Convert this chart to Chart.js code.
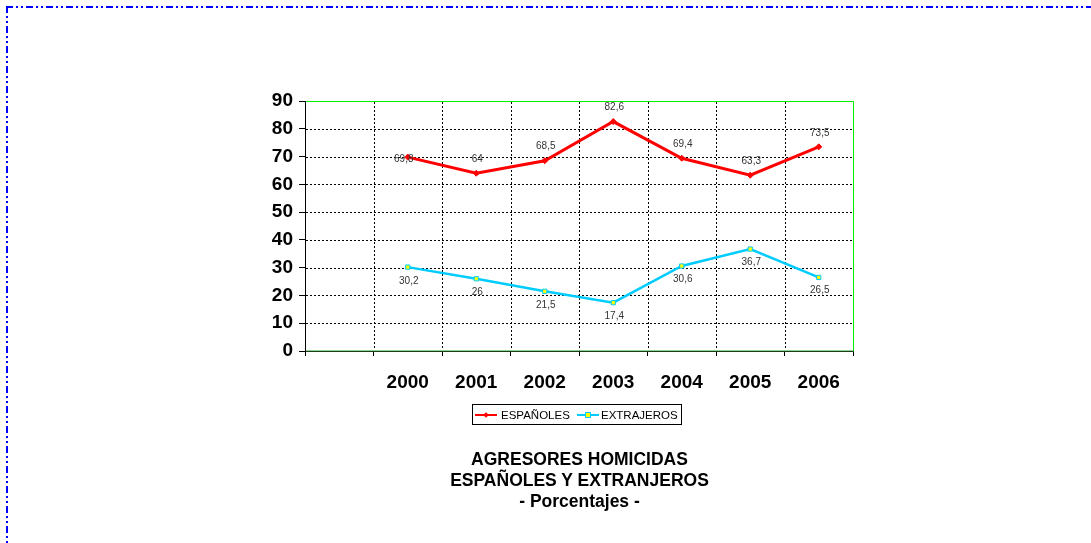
<!DOCTYPE html>
<html><head><meta charset="utf-8">
<script src="https://cdn.jsdelivr.net/npm/chart.js@4.4.0/dist/chart.umd.min.js"></script>
<style>
html,body{margin:0;padding:0;background:#fff;width:1091px;height:543px;overflow:hidden;font-family:Arial,"Liberation Sans",sans-serif;}
#c{position:absolute;left:0;top:0;}
#frame{position:absolute;left:0;top:0;}
.t{position:absolute;left:380px;width:399px;text-align:center;font-weight:bold;font-size:17.5px;line-height:20px;color:#000;white-space:nowrap;}
#legbox{position:absolute;left:472px;top:404px;width:210px;height:21px;border:1px solid #000;box-sizing:border-box;}
.lt{position:absolute;top:405px;height:20px;line-height:20px;font-size:11.5px;color:#000;white-space:nowrap;}
.ls{position:absolute;top:409px;}
</style>
</head><body>
<svg id="frame" width="1091" height="543">
  <line x1="6" y1="7" x2="1091" y2="7" stroke="#0000ff" stroke-width="2" stroke-dasharray="7 3 2 3 2 3"/>
  <line x1="7" y1="6" x2="7" y2="543" stroke="#0000ff" stroke-width="2" stroke-dasharray="7 3 2 3 2 3"/>
</svg>
<canvas id="c" width="1091" height="543"></canvas>
<div id="legbox"></div>
<svg class="ls" style="left:475px" width="23" height="12">
  <line x1="0" y1="6" x2="22" y2="6" stroke="#ff0000" stroke-width="2"/>
  <rect x="9" y="4" width="4" height="4" fill="#ff0000" transform="rotate(45 11 6)"/>
</svg>
<span class="lt" style="left:501px">ESPAÑOLES</span>
<svg class="ls" style="left:577px" width="23" height="12">
  <line x1="0" y1="6" x2="22" y2="6" stroke="#00ccff" stroke-width="2"/>
  <rect x="8.5" y="3.5" width="5" height="5" fill="#ffff00" stroke="#00ccff" stroke-width="1"/>
</svg>
<span class="lt" style="left:601px">EXTRAJEROS</span>
<div class="t" style="top:449px">AGRESORES HOMICIDAS</div>
<div class="t" style="top:470px">ESPAÑOLES Y EXTRANJEROS</div>
<div class="t" style="top:491px">- Porcentajes -</div>
<script>
const categories = ['', '2000', '2001', '2002', '2003', '2004', '2005', '2006'];
const espanoles = [null, 69.8, 64, 68.5, 82.6, 69.4, 63.3, 73.5];
const extranjeros = [null, 30.2, 26, 21.5, 17.4, 30.6, 36.7, 26.5];
const yMin = 0, yMax = 90, yStep = 10;

// label placement relative to each point (style only)
const labelShift = [
  [[0,0],[-5,2],[0,-14],[0,-14],[0,-14],[0,-14],[0,-14],[0,-14]],
  [[0,0],[0,14],[0,13],[0,13.5],[0,13.5],[0,13],[0,13],[0,13]]
];

// dotted gridlines + axes, positioned by the chart's own scales
const plotFrame = {
  id: 'plotFrame',
  beforeDatasetsDraw(chart) {
    const a = chart.chartArea, ctx = chart.ctx;
    const xs = chart.scales.x, ys = chart.scales.y;
    const L = Math.round(a.left), R = Math.round(a.right), T = Math.round(a.top), B = Math.round(a.bottom);
    ctx.save();
    ctx.lineWidth = 1;
    ctx.strokeStyle = '#000000';
    ctx.setLineDash([2, 2]);
    ys.ticks.forEach(t => {
      if (t.value <= yMin || t.value >= yMax) return;
      const y = Math.round(ys.getPixelForValue(t.value)) + 0.5;
      ctx.beginPath(); ctx.moveTo(L + 1, y); ctx.lineTo(R, y); ctx.stroke();
    });
    for (let i = 1; i < categories.length; i++) {
      const x = Math.round((xs.getPixelForValue(i - 1) + xs.getPixelForValue(i)) / 2) + 0.5;
      ctx.beginPath(); ctx.moveTo(x, T + 1); ctx.lineTo(x, B); ctx.stroke();
    }
    ctx.setLineDash([]);
    ctx.strokeStyle = '#1a3f1a';
    ctx.beginPath(); ctx.moveTo(L, B + 0.5); ctx.lineTo(R + 1, B + 0.5); ctx.stroke();
    ctx.strokeStyle = '#8fcf8f';
    ctx.beginPath(); ctx.moveTo(L + 1, B - 0.5); ctx.lineTo(R, B - 0.5); ctx.stroke();
    ctx.strokeStyle = '#000000';
    ctx.beginPath(); ctx.moveTo(L + 0.5, T); ctx.lineTo(L + 0.5, B + 1); ctx.stroke();
    ctx.restore();
  },
  afterDraw(chart) {
    const a = chart.chartArea, ctx = chart.ctx;
    const L = Math.round(a.left), R = Math.round(a.right), T = Math.round(a.top), B = Math.round(a.bottom);
    ctx.save();
    ctx.setLineDash([]);
    ctx.lineWidth = 1;
    ctx.strokeStyle = '#00ee00';
    ctx.beginPath();
    ctx.moveTo(L + 1, T + 0.5);
    ctx.lineTo(R + 0.5, T + 0.5);
    ctx.lineTo(R + 0.5, B);
    ctx.stroke();
    ctx.restore();
  }
};

const valueLabels = {
  id: 'valueLabels',
  afterDatasetsDraw(chart) {
    const ctx = chart.ctx;
    ctx.save();
    ctx.font = '10px Arial, "Liberation Sans", sans-serif';
    ctx.fillStyle = '#333333';
    ctx.textAlign = 'center';
    ctx.textBaseline = 'middle';
    chart.data.datasets.forEach((ds, di) => {
      const meta = chart.getDatasetMeta(di);
      meta.data.forEach((pt, i) => {
        const v = ds.data[i];
        if (v === null || v === undefined) return;
        const s = labelShift[di][i];
        ctx.fillText(String(v).replace('.', ','), pt.x + 1 + s[0], pt.y + s[1]);
      });
    });
    ctx.restore();
  }
};

new Chart(document.getElementById('c'), {
  type: 'line',
  data: {
    labels: categories,
    datasets: [
      {
        label: 'ESPAÑOLES',
        data: espanoles,
        borderColor: '#ff0000',
        backgroundColor: '#ff0000',
        borderWidth: 3,
        pointStyle: 'rectRot',
        pointRadius: 3,
        pointBorderWidth: 1,
        pointBackgroundColor: '#ff0000',
        pointBorderColor: '#ff0000',
        tension: 0,
        spanGaps: false
      },
      {
        label: 'EXTRAJEROS',
        data: extranjeros,
        borderColor: '#00ccff',
        backgroundColor: '#ffff00',
        borderWidth: 2.5,
        pointStyle: 'rect',
        pointRadius: 3,
        pointBorderWidth: 1,
        pointBackgroundColor: '#ffff00',
        pointBorderColor: '#00ccff',
        tension: 0,
        spanGaps: false
      }
    ]
  },
  options: {
    responsive: false,
    animation: false,
    devicePixelRatio: 1,
    layout: { padding: { left: 255, top: 101, right: 238, bottom: 142 } },
    plugins: { legend: { display: false }, title: { display: false }, tooltip: { enabled: false } },
    scales: {
      x: {
        type: 'category',
        offset: true,
        afterFit(s) { s.height = 50; },
        grid: {
          offset: true,
          drawOnChartArea: false,
          drawTicks: true,
          tickLength: 5,
          tickColor: '#000000',
          color: '#000000'
        },
        border: { display: false },
        ticks: {
          color: '#000000',
          font: { family: 'Arial, "Liberation Sans", sans-serif', size: 19, weight: 'bold' },
          padding: 15,
          maxRotation: 0,
          autoSkip: false
        }
      },
      y: {
        min: yMin,
        max: yMax,
        afterFit(s) { s.width = 50; },
        grid: {
          drawOnChartArea: false,
          tickLength: 6,
          tickColor: '#000000',
          color: '#000000'
        },
        border: { display: false },
        ticks: {
          stepSize: yStep,
          color: '#000000',
          font: { family: 'Arial, "Liberation Sans", sans-serif', size: 19, weight: 'bold' },
          padding: 6
        }
      }
    }
  },
  plugins: [plotFrame, valueLabels]
});
</script>
</body></html>
